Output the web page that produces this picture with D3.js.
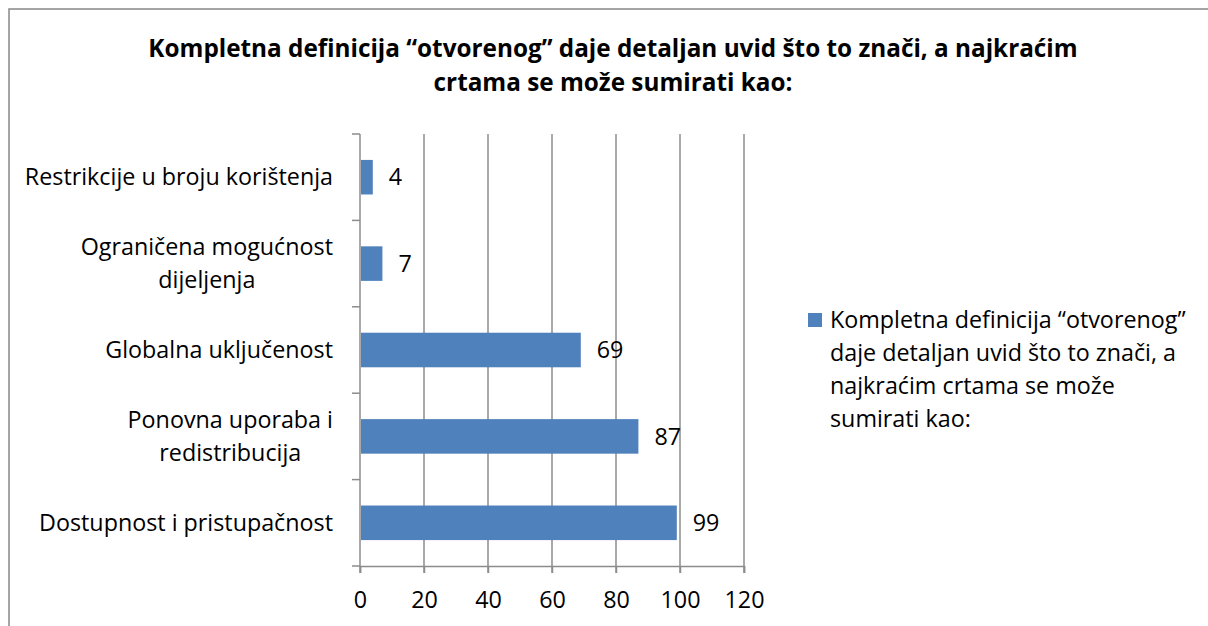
<!DOCTYPE html>
<html>
<head>
<meta charset="utf-8">
<script src="https://cdn.jsdelivr.net/npm/d3@7"></script>
<style>
  body { margin: 0; background: #fff; }
  text { font-family: "Open Sans", "Noto Sans", sans-serif; fill: #000; }
</style>
</head>
<body>
<svg id="chart" width="1208" height="626"></svg>
<script>
// data (top to bottom)
const categories = [
  ["Restrikcije u broju korištenja"],
  ["Ograničena mogućnost", "dijeljenja"],
  ["Globalna uključenost"],
  ["Ponovna uporaba i", "redistribucija"],
  ["Dostupnost i pristupačnost"]
];
const values = [4, 7, 69, 87, 99];
const xTicks = [0, 20, 40, 60, 80, 100, 120];
const titleLines = ["Kompletna definicija \u201cotvorenog\u201d daje detaljan uvid što to znači, a najkraćim", "crtama se može sumirati kao:"];
const legendLines = ["Kompletna definicija \u201cotvorenog\u201d", "daje detaljan uvid što to znači, a", "najkraćim crtama se može", "sumirati kao:"];

const barColor = "#4f81bd";
const gridColor = "#8c8c8c";
const plotL = 360, plotR = 744, plotT = 134, plotB = 566;
const fs = 23.3;
const fontFam = "'Open Sans', 'Noto Sans', sans-serif";

const svg = d3.select("#chart");

// outer frame
svg.append("rect")
  .attr("x", 9).attr("y", 9)
  .attr("width", 1220).attr("height", 640)
  .attr("fill", "none").attr("stroke", "#888").attr("stroke-width", 1.5);

// title
svg.append("text")
  .attr("x", 613).attr("y", 57)
  .attr("text-anchor", "middle")
  .style("font-size", "24.3px").style("font-weight", "bold")
  .selectAll("tspan")
  .data(titleLines)
  .join("tspan")
    .attr("x", 613)
    .attr("dy", (d, i) => i ? 34 : 0)
    .text(d => d);

const x = d3.scaleLinear().domain([0, 120]).range([plotL, plotR]);
const y = d3.scaleBand().domain(d3.range(values.length)).range([plotT, plotB]);

// vertical gridlines
svg.append("g")
  .selectAll("line")
  .data(xTicks.slice(1))
  .join("line")
    .attr("x1", d => x(d)).attr("x2", d => x(d))
    .attr("y1", plotT).attr("y2", plotB + 7)
    .attr("stroke", gridColor).attr("stroke-width", 1.5);

// x axis
const xAxis = svg.append("g")
  .attr("transform", `translate(0,${plotB})`)
  .call(d3.axisBottom(x).tickValues(xTicks).tickSize(7).tickPadding(18));
xAxis.select(".domain").attr("stroke", gridColor).attr("stroke-width", 1.5);
xAxis.selectAll(".tick line").attr("stroke", gridColor).attr("stroke-width", 1.5);
xAxis.selectAll(".tick text")
  .attr("fill", "#000")
  .style("font-size", fs + "px")
  .style("font-family", fontFam);

// y axis (ticks at band boundaries)
const bounds = d3.range(values.length + 1).map(i => plotT + i * y.step());
svg.append("line")
  .attr("x1", plotL).attr("x2", plotL)
  .attr("y1", plotT).attr("y2", plotB + 7)
  .attr("stroke", gridColor).attr("stroke-width", 1.5);
svg.append("g")
  .selectAll("line")
  .data(bounds)
  .join("line")
    .attr("x1", plotL - 8).attr("x2", plotL)
    .attr("y1", d => d).attr("y2", d => d)
    .attr("stroke", gridColor).attr("stroke-width", 1.5);

// bars
const barH = y.bandwidth() * 0.4;
svg.append("g")
  .selectAll("rect")
  .data(values)
  .join("rect")
    .attr("x", plotL + 1)
    .attr("y", (d, i) => y(i) + (y.bandwidth() - barH) / 2)
    .attr("width", d => x(d) - plotL - 1)
    .attr("height", barH)
    .attr("fill", barColor);

// value labels
svg.append("g")
  .selectAll("text")
  .data(values)
  .join("text")
    .attr("x", d => x(d) + 16)
    .attr("y", (d, i) => y(i) + y.bandwidth() / 2)
    .attr("dy", "0.35em")
    .style("font-size", fs + "px")
    .text(d => d);

// category labels: block right-aligned to the axis, lines centred inside it
const lineH = 33;
const catLabels = svg.append("g")
  .selectAll("text")
  .data(categories)
  .join("text")
    .attr("text-anchor", "middle")
    .style("font-size", fs + "px")
    .each(function(lines, i) {
      const cy = y(i) + y.bandwidth() / 2 - (lines.length - 1) * lineH / 2;
      const t = d3.select(this);
      lines.forEach((s, j) => {
        t.append("tspan")
          .attr("y", cy + j * lineH)
          .attr("dy", "0.35em")
          .text(s);
      });
    });
catLabels.each(function() {
  const t = d3.select(this);
  const maxW = d3.max(t.selectAll("tspan").nodes(), n => n.getComputedTextLength());
  t.selectAll("tspan").attr("x", 333 - maxW / 2);
});

// legend
const lg = svg.append("g");
lg.append("rect")
  .attr("x", 808).attr("y", 313)
  .attr("width", 14).attr("height", 14)
  .attr("fill", barColor);
lg.append("text")
  .style("font-size", fs + "px")
  .selectAll("tspan")
  .data(legendLines)
  .join("tspan")
    .attr("x", 830)
    .attr("y", (d, i) => 320 + i * 33)
    .attr("dy", "0.35em")
    .text(d => d);
</script>
</body>
</html>
